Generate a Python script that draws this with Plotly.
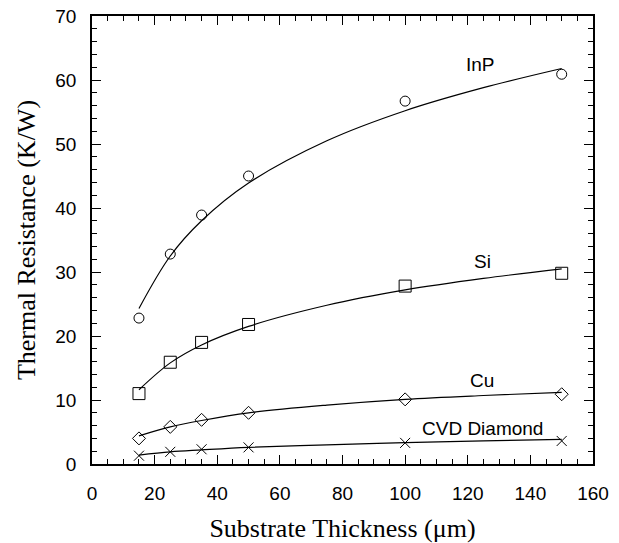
import plotly.graph_objects as go

# Substrate thickness (um) at which thermal resistance was measured
thickness = [15, 25, 35, 50, 100, 150]

# Measured thermal resistance (K/W)
r_inp = [22.8, 32.8, 38.9, 45.0, 56.7, 60.9]
r_si = [11.0, 15.9, 19.0, 21.8, 27.8, 29.8]
r_cu = [4.0, 5.8, 6.9, 8.0, 10.1, 10.9]
r_cvd = [1.3, 1.9, 2.3, 2.6, 3.3, 3.6]

# Fitted trend curves, sampled along the thickness range
fit_x = [15, 25, 35, 50, 75, 100, 125, 150]
fit_inp = [24.3, 32.5, 38.0, 43.9, 50.5, 55.2, 58.8, 61.8]
fit_si = [11.6, 15.8, 18.6, 21.5, 24.8, 27.2, 29.0, 30.5]
fit_cu = [4.4, 5.8, 6.8, 8.0, 9.2, 10.1, 10.7, 11.2]
fit_cvd = [1.4, 1.9, 2.2, 2.6, 3.0, 3.35, 3.6, 3.85]

labels = ["InP", "Si", "Cu", "CVD Diamond"]
label_x = [124.2, 124.6, 124.6, 124.6]
label_y = [62.5, 31.6, 13.0, 5.6]

series = [
    (r_inp, fit_inp, "circle-open", 10),
    (r_si, fit_si, "square-open", 12),
    (r_cu, fit_cu, "diamond-open", 10),
    (r_cvd, fit_cvd, "x-thin-open", 10),
]

fig = go.Figure()
for meas, fit, sym, size in series:
    fig.add_trace(go.Scatter(
        x=fit_x, y=fit, mode="lines",
        line=dict(color="black", width=1.2, shape="spline", smoothing=1.0),
        hoverinfo="skip", showlegend=False,
    ))
    fig.add_trace(go.Scatter(
        x=thickness, y=meas, mode="markers",
        marker=dict(symbol=sym, size=size, color="black",
                    line=dict(color="black", width=1)),
        showlegend=False,
    ))

for text, lx, ly in zip(labels, label_x, label_y):
    fig.add_annotation(x=lx, y=ly, text=text, showarrow=False,
                       font=dict(family="Liberation Sans, Arial", size=19, color="black"))

axis_common = dict(
    showline=True, linecolor="black", linewidth=1.5, mirror="ticks",
    ticks="inside", ticklen=9, tickwidth=1.2, tickcolor="black",
    showgrid=False, zeroline=False, automargin=False,
    tickfont=dict(family="Liberation Sans, Arial", size=19, color="black"),
)

fig.update_xaxes(
    range=[0, 160], dtick=20, tick0=0,
    minor=dict(dtick=5, ticks="inside", ticklen=5, tickcolor="black", tickwidth=1),
    ticklabelstandoff=11,
    title=dict(text="Substrate Thickness (\u03bcm)", standoff=24,
               font=dict(family="Liberation Serif, Times New Roman", size=26, color="black")),
    **axis_common,
)
fig.update_yaxes(
    range=[0, 70], dtick=10, tick0=0,
    minor=dict(dtick=2, ticks="inside", ticklen=5, tickcolor="black", tickwidth=1),
    ticklabelstandoff=10,
    title=dict(text="Thermal Resistance (K/W)", standoff=12,
               font=dict(family="Liberation Serif, Times New Roman", size=26, color="black")),
    **axis_common,
)

fig.update_layout(
    width=619, height=543,
    margin=dict(l=92, r=26, t=16, b=79),
    paper_bgcolor="white", plot_bgcolor="white",
)

fig.write_html("out.html")
